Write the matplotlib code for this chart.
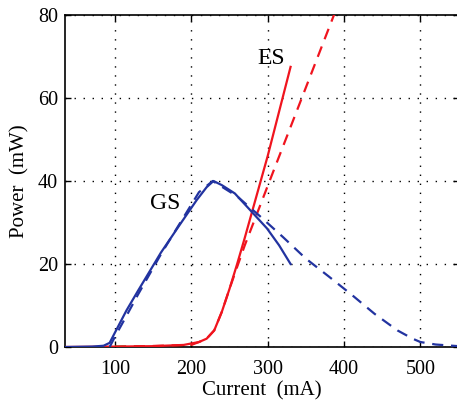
import matplotlib
matplotlib.use("Agg")
import matplotlib.pyplot as plt

plt.rcParams['font.family'] = ['Liberation Serif', 'DejaVu Serif']

# Ground-state (GS) output power, measured and simulated
gs_meas_x = [35, 70, 85, 93, 100, 115, 130, 160, 185, 207, 220, 229, 240, 257, 279, 299, 315, 330]
gs_meas_y = [0.0, 0.1, 0.3, 1.0, 3.5, 8.8, 13.5, 22.7, 29.5, 35.4, 38.5, 40.0, 39.0, 37.0, 32.6, 28.6, 24.5, 20.0]
gs_sim_x = [93, 100, 115, 130, 160, 190, 210, 228, 260, 290, 320, 350, 380, 410, 440, 470, 490, 500, 520, 550]
gs_sim_y = [0.0, 2.5, 7.5, 12.6, 22.3, 31.3, 37.3, 40.0, 36.3, 31.5, 26.5, 21.3, 17.0, 12.6, 8.0, 4.0, 2.0, 1.2, 0.6, 0.2]

# Excited-state (ES) output power, measured and simulated
es_meas_x = [35, 100, 150, 190, 210, 220, 230, 240, 250, 260, 270, 300, 330]
es_meas_y = [0.0, 0.1, 0.2, 0.5, 1.2, 2.0, 4.0, 8.5, 14.0, 20.0, 26.3, 46.0, 67.5]
es_sim_x = [100, 200, 210, 220, 230, 240, 250, 260, 270, 300, 350, 390]
es_sim_y = [0.0, 0.5, 1.2, 2.0, 4.0, 8.5, 14.0, 19.3, 24.5, 38.8, 62.5, 81.5]

# Second excited-state trace lying on the baseline
es2_x = [100, 200]
es2_y = [0.1, 0.3]

x_ticks = [100, 200, 300, 400, 500]
y_ticks = [0, 20, 40, 60, 80]

blue = '#2233a0'
red = '#f0141e'
green = '#1aa32a'

fig = plt.figure(figsize=(4.57, 4.03), dpi=100)
ax = fig.add_axes([65 / 457, (403 - 347) / 403, (458.5 - 65) / 457, (347 - 15) / 403])

lw = 1.6
dash = (5, 3.5)
ax.plot(es2_x, es2_y, color=green, lw=lw, dashes=dash, zorder=2)
ax.plot(es_sim_x, es_sim_y, color=red, lw=lw, dashes=dash, zorder=3)
ax.plot(es_meas_x, es_meas_y, color=red, lw=lw, zorder=3)
ax.plot(gs_sim_x, gs_sim_y, color=blue, lw=lw, dashes=dash, zorder=4)
ax.plot(gs_meas_x, gs_meas_y, color=blue, lw=lw, zorder=4)

ax.text(305, 69.5, 'ES', fontsize=17, ha='center', va='center')
ax.text(166, 34.5, 'GS', fontsize=17, ha='center', va='center')

ax.set_xlim(34.5, 550)
ax.set_ylim(0, 80)
ax.set_xticks(x_ticks)
ax.set_yticks(y_ticks)
ax.tick_params(direction='in', top=True, right=True, labelsize=14.5, length=4, width=1)
ax.tick_params(axis='x', pad=9)
ax.tick_params(axis='y', pad=5)
ax.grid(True, color='black', linestyle=(0, (1, 5.5)), linewidth=1.0)
for s in ax.spines.values():
    s.set_linewidth(1.2)

ax.set_xlabel('Current  (mA)', fontsize=15, labelpad=2)
ax.set_ylabel('Power  (mW)', fontsize=15, labelpad=6)

fig.savefig('out.png', dpi=100)
